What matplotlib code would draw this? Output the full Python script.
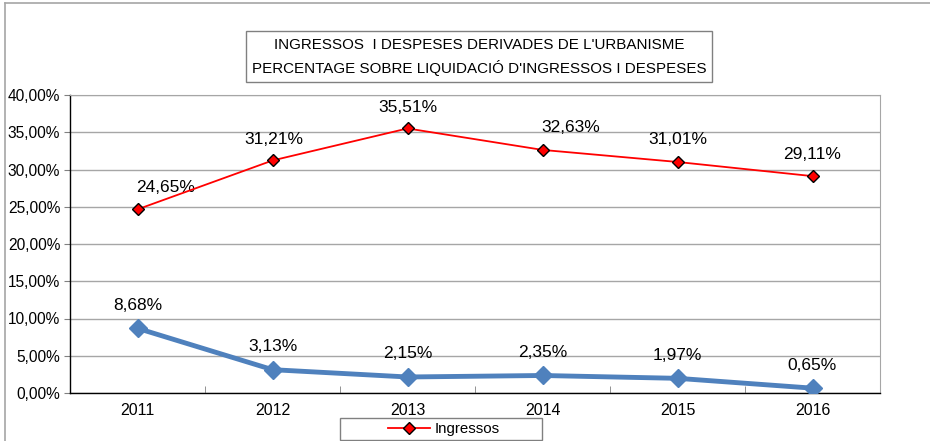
import matplotlib

matplotlib.use("Agg")
import matplotlib.pyplot as plt
from matplotlib.lines import Line2D
from matplotlib.patches import Rectangle
from matplotlib.ticker import FuncFormatter

plt.rcParams["font.family"] = ["Liberation Sans", "DejaVu Sans"]

years = ["2011", "2012", "2013", "2014", "2015", "2016"]
ingressos = [24.65, 31.21, 35.51, 32.63, 31.01, 29.11]
despeses = [8.68, 3.13, 2.15, 2.35, 1.97, 0.65]
title_lines = [
    "INGRESSOS  I DESPESES DERIVADES DE L'URBANISME",
    "PERCENTAGE SOBRE LIQUIDACIÓ D'INGRESSOS I DESPESES",
]


def pct(value):
    return f"{value:.2f}".replace(".", ",") + "%"


W, H = 930, 441
fig = plt.figure(figsize=(W / 100, H / 100), dpi=100)
ax = fig.add_axes([70 / W, 1 - 393 / H, 810 / W, 298 / H])

x = list(range(len(years)))

ax.plot(x, despeses, color="#4F81BD", linewidth=3.5, marker="D", markersize=9.5,
        markerfacecolor="#4F81BD", markeredgecolor="#4F81BD", zorder=3)
ax.plot(x, ingressos, color="#FF0000", linewidth=1.3, marker="D", markersize=6,
        markerfacecolor="#FF0000", markeredgecolor="black", markeredgewidth=1.0,
        zorder=4, label="Ingressos")

# label offsets in pixels (dx, dy)
red_offsets = [(28, 22), (1, 21), (0, 21), (28, 22), (0, 22), (0, 22)]
for xi, v, (dx, dy) in zip(x, ingressos, red_offsets):
    ax.annotate(pct(v), (xi, v), xytext=(dx, dy), textcoords="offset pixels",
                ha="center", va="center", fontsize=12.5, color="black")
for xi, v in zip(x, despeses):
    ax.annotate(pct(v), (xi, v), xytext=(0, 23), textcoords="offset pixels",
                ha="center", va="center", fontsize=12.5, color="black")

ax.set_xlim(-0.5, len(years) - 0.5)
ax.set_ylim(0, 40)
ax.set_yticks(range(0, 41, 5))
ax.yaxis.set_major_formatter(FuncFormatter(lambda v, _: pct(v)))
ax.set_xticks(x)
ax.set_xticklabels(years)
ax.set_xticks([i + 0.5 for i in x[:-1]], minor=True)
ax.tick_params(axis="x", which="major", length=0, pad=7, labelsize=11.5)
ax.tick_params(axis="x", which="minor", direction="in", length=5, color="#808080")
ax.tick_params(axis="y", direction="out", length=4, color="#808080", labelsize=11.2, pad=3)

ax.grid(axis="y", color="#A6A6A6", linewidth=1.0)
ax.set_axisbelow(True)
for side in ("top", "right"):
    ax.spines[side].set_color("#A6A6A6")
for side in ("left", "bottom"):
    ax.spines[side].set_color("black")
    ax.spines[side].set_linewidth(1.0)

# title box
fig.patches.append(Rectangle((246 / W, 1 - 82 / H), 466 / W, 51 / H,
                             transform=fig.transFigure, fill=False,
                             edgecolor="#808080", linewidth=1.0))
fig.text(479 / W, 1 - 45 / H, title_lines[0], ha="center", va="center", fontsize=10.9)
fig.text(479 / W, 1 - 68 / H, title_lines[1], ha="center", va="center", fontsize=10.9)

# outer chart border
fig.add_artist(Line2D([5 / W, 5 / W], [0, 1 - 3 / H], transform=fig.transFigure,
                      color="#A6A6A6", linewidth=1.2))
fig.add_artist(Line2D([5 / W, 1], [1 - 3 / H, 1 - 3 / H], transform=fig.transFigure,
                      color="#A6A6A6", linewidth=1.2))

# legend box, drawn separately so it can be wider than its entry
fig.patches.append(Rectangle((340 / W, 1 - 440 / H), 202 / W, 22 / H,
                             transform=fig.transFigure, fill=False,
                             edgecolor="#808080", linewidth=1.0))
fig.legend(loc="center", bbox_to_anchor=(444 / W, 1 - 429 / H), frameon=False,
           fontsize=10.8, handlelength=2.8, borderpad=0, borderaxespad=0,
           handletextpad=0.3)

fig.savefig("out.png", dpi=100)
